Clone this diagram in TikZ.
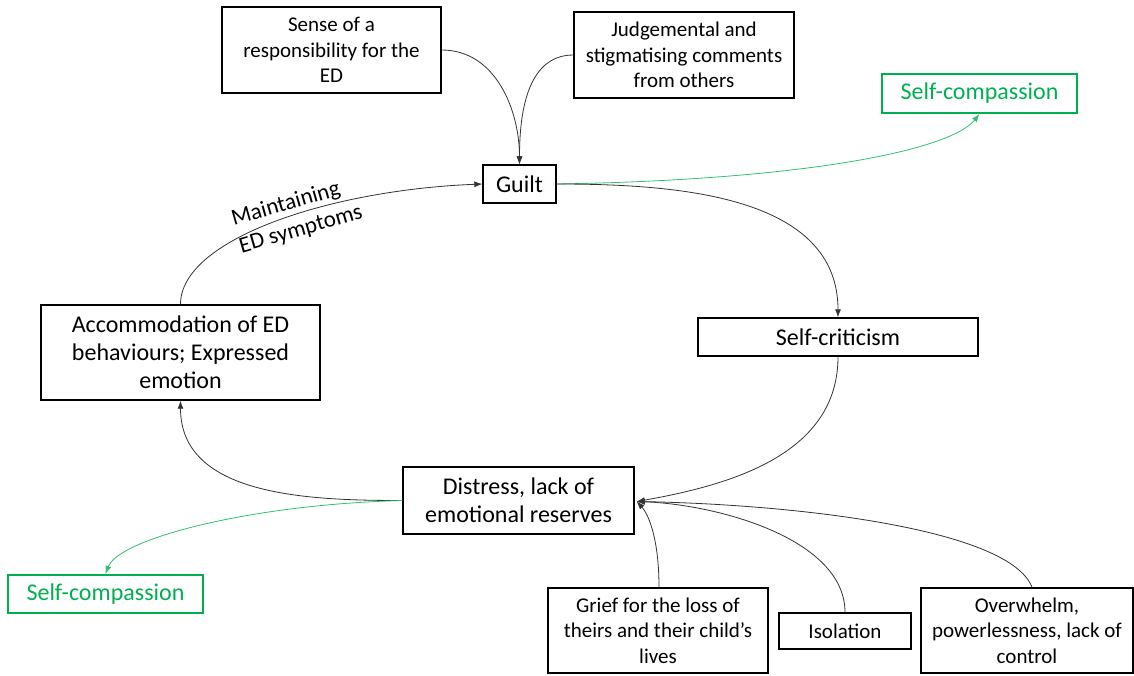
\documentclass[tikz,border=0pt]{standalone}
\usepackage{fontspec}
\setmainfont{Carlito}
\usetikzlibrary{arrows.meta}
\definecolor{scgreen}{RGB}{0,176,80}
\begin{document}
\begin{tikzpicture}[x=1pt,y=-1pt,
  box/.style={draw=black,line width=1.4pt,rectangle,inner sep=0pt,align=center,
    font=\fontsize{21}{25.5}\selectfont,text=black},
  bigbox/.style={box,font=\fontsize{24}{28}\selectfont},
  greenbox/.style={bigbox,draw=scgreen,line width=2pt,text=scgreen},
  link/.style={draw=black!80,line width=0.8pt,-{Latex[length=8pt,width=6pt]}},
  greenlink/.style={draw=scgreen!80,line width=0.8pt,-{Latex[length=8pt,width=6pt]}}]
\useasboundingbox (0,0) rectangle (1134,675);
% boxes
\node[box,minimum width=219pt,minimum height=86pt] (sense) at (331.5,50) {Sense of a\\responsibility for the\\ED};
\node[box,minimum width=220pt,minimum height=86pt] (judge) at (684,55) {Judgemental and\\stigmatising comments\\from others};
\node[greenbox,minimum width=195pt,minimum height=39pt] (sctop) at (979.5,93.5) {Self-compassion};
\node[bigbox,minimum width=73pt,minimum height=38pt] (guilt) at (519.5,184) {Guilt};
\node[bigbox,minimum width=280pt,minimum height=38pt] (crit) at (838,337) {Self-criticism};
\node[bigbox,minimum width=279pt,minimum height=95pt] (accom) at (180.5,352.5) {Accommodation of ED\\behaviours; Expressed\\emotion};
\node[bigbox,minimum width=231pt,minimum height=67pt] (distress) at (518.5,500.5) {Distress, lack of\\emotional reserves};
\node[greenbox,minimum width=195pt,minimum height=38pt] (scbot) at (105.5,594) {Self-compassion};
\node[box,minimum width=220pt,minimum height=85pt] (grief) at (658,630.5) {Grief for the loss of\\theirs and their child’s\\lives};
\node[box,minimum width=132pt,minimum height=36pt] (isol) at (845,631) {Isolation};
\node[box,minimum width=212pt,minimum height=85pt] (over) at (1027,630.5) {Overwhelm,\\powerlessness, lack of\\control};
% label on the feedback loop
\node[rotate=16,align=left,font=\fontsize{23}{28.5}\selectfont,inner sep=0pt] (maint) at (297,216) {Maintaining\\ED symptoms};
% connectors
\coordinate (gtop) at (guilt.north);
\coordinate (dright) at ([xshift=2pt,yshift=-1pt]distress.east);
\draw[link] (sense.east) to[out=0,in=90] (gtop);
\draw[link] (judge.west) to[out=180,in=90] (gtop);
\draw[greenlink] (guilt.east) .. controls +(244,-4) and +(-30,37) .. (sctop.south);
\draw[link] (guilt.east) to[out=0,in=90] (crit.north);
\draw[link] (crit.south) to[out=-90,in=10] (dright);
\draw[link] (distress.west) to[out=180,in=-90] (accom.south);
\draw[link] (accom.north) .. controls +(0,-65) and +(-153,6) .. (guilt.west);
\draw[greenlink] (distress.west) .. controls +(-153,4) and +(13,-35) .. (scbot.north);
\draw[link] ([xshift=1pt]grief.north) .. controls +(0,-48) and +(12,13) .. (dright);
\draw[link] (isol.north) .. controls +(0,-73) and +(82,3) .. (dright);
\draw[link] ([xshift=5pt]over.north) .. controls +(-22,-58) and +(162,3) .. (dright);
\end{tikzpicture}
\end{document}
